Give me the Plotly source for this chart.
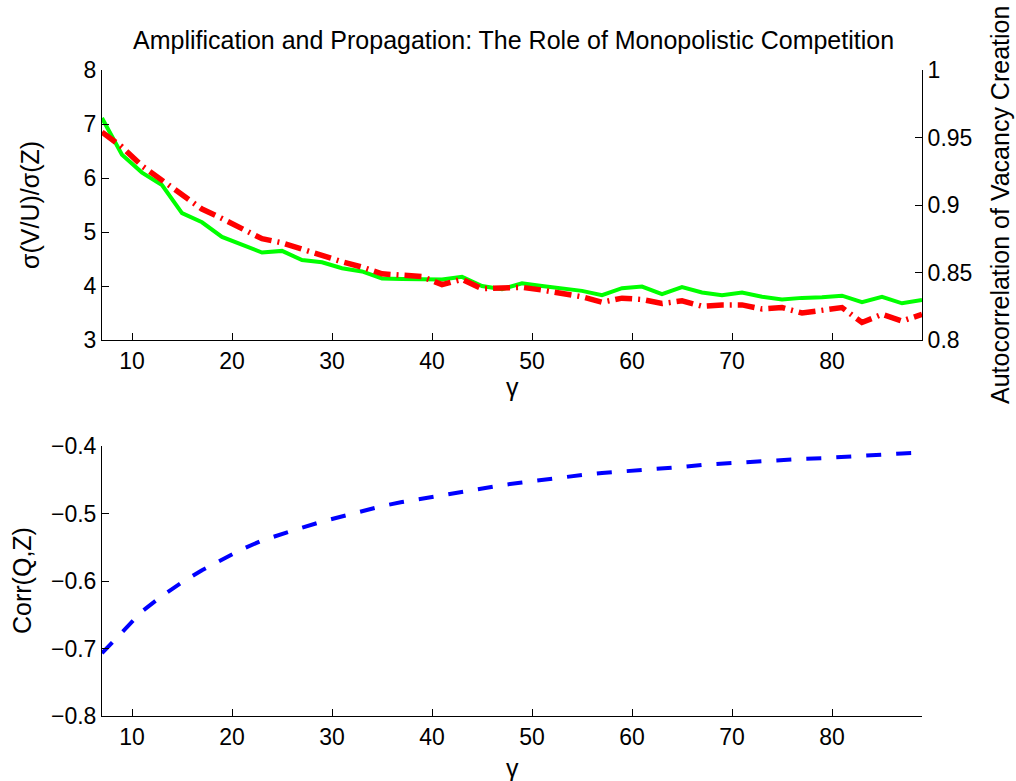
import plotly.graph_objects as go

gamma = list(range(7, 90, 2))

sigma_vu = [7.11, 6.43, 6.10, 5.87, 5.35, 5.18, 4.91, 4.76, 4.62, 4.65,
            4.48, 4.44, 4.33, 4.27, 4.14, 4.13, 4.12, 4.12, 4.17, 4.00,
            3.94, 4.05, 4.00, 3.95, 3.91, 3.83, 3.96, 3.99, 3.85, 3.98,
            3.88, 3.83, 3.88, 3.80, 3.75, 3.78, 3.79, 3.82, 3.70, 3.80,
            3.68, 3.74]

autocorr_v = [0.954, 0.943, 0.929, 0.918, 0.907, 0.897, 0.890, 0.882, 0.875, 0.872,
              0.867, 0.863, 0.858, 0.854, 0.849, 0.848, 0.847, 0.841, 0.845, 0.838,
              0.839, 0.839, 0.837, 0.835, 0.832, 0.828, 0.831, 0.830, 0.827, 0.829,
              0.825, 0.826, 0.826, 0.823, 0.824, 0.820, 0.822, 0.824, 0.813, 0.819,
              0.814, 0.819]

corr_qz = [-0.707, -0.676, -0.645, -0.622, -0.602, -0.584, -0.568, -0.553, -0.540, -0.530,
           -0.521, -0.512, -0.504, -0.496, -0.489, -0.483, -0.478, -0.472, -0.467, -0.463,
           -0.458, -0.454, -0.450, -0.446, -0.443, -0.440, -0.438, -0.436, -0.433, -0.431,
           -0.428, -0.426, -0.424, -0.423, -0.421, -0.419, -0.418, -0.416, -0.415, -0.413,
           -0.411, -0.410]

x_ticks = [10, 20, 30, 40, 50, 60, 70, 80]
y1_ticks = [3, 4, 5, 6, 7, 8]
y2_ticks = [0.8, 0.85, 0.9, 0.95, 1]
y2_labels = ["0.8", "0.85", "0.9", "0.95", "1"]
y3_ticks = [-0.8, -0.7, -0.6, -0.5, -0.4]
y3_labels = ["\u22120.8", "\u22120.7", "\u22120.6", "\u22120.5", "\u22120.4"]

title_text = "Amplification and Propagation: The Role of Monopolistic Competition"

W, H = 1016, 781
FONT = "Liberation Sans, Arial, sans-serif"
FS = 23
LFS = 25

fig = go.Figure()
fig.add_trace(go.Scatter(x=gamma, y=sigma_vu, mode="lines", xaxis="x", yaxis="y",
                         line=dict(color="rgb(0,255,0)", width=4), showlegend=False))
fig.add_trace(go.Scatter(x=gamma, y=autocorr_v, mode="lines", xaxis="x", yaxis="y2",
                         line=dict(color="rgb(255,0,0)", width=5.5, dash="17px,6px,2px,6px"),
                         showlegend=False))
fig.add_trace(go.Scatter(x=gamma, y=corr_qz, mode="lines", xaxis="x2", yaxis="y3",
                         line=dict(color="rgb(0,0,255)", width=4, dash="15px,15px"),
                         showlegend=False))

xd = [102 / W, 922 / W]
top_dom = [1 - 340 / H, 1 - 70 / H]
bot_dom = [1 - 716 / H, 1 - 446 / H]

axis_common = dict(showgrid=False, zeroline=False, showline=True, linecolor="black",
                   linewidth=1, ticks="inside", ticklen=7, tickcolor="black",
                   automargin=False,
                   tickfont=dict(family=FONT, size=FS, color="black"))

fig.update_layout(
    width=W, height=H,
    margin=dict(l=0, r=0, t=0, b=0, pad=0, autoexpand=False),
    paper_bgcolor="white", plot_bgcolor="white",
    xaxis=dict(domain=xd, anchor="y", range=[7, 89], tickvals=x_ticks, **axis_common),
    yaxis=dict(domain=top_dom, anchor="x", range=[3, 8], tickvals=y1_ticks, **axis_common),
    yaxis2=dict(overlaying="y", side="right", anchor="x", range=[0.8, 1],
                tickvals=y2_ticks, ticktext=y2_labels, **axis_common),
    xaxis2=dict(domain=xd, anchor="y3", range=[7, 89], tickvals=x_ticks, **axis_common),
    yaxis3=dict(domain=bot_dom, anchor="x2", range=[-0.8, -0.4], tickvals=y3_ticks,
                ticktext=y3_labels, **axis_common),
)

ann_font = dict(family=FONT, size=LFS, color="black")
annotations = [
    dict(text=title_text, x=513 / W, y=1 - 40 / H, xref="paper", yref="paper",
         showarrow=False, xanchor="center", yanchor="middle",
         font=dict(family=FONT, size=25, color="black")),
    dict(text="\u03b3", x=512 / W, y=1 - 387 / H, xref="paper", yref="paper",
         showarrow=False, xanchor="center", yanchor="middle", font=ann_font),
    dict(text="\u03b3", x=512 / W, y=1 - 768 / H, xref="paper", yref="paper",
         showarrow=False, xanchor="center", yanchor="middle", font=ann_font),
    dict(text="\u03c3(V/U)/\u03c3(Z)", x=30 / W, y=1 - 205 / H, xref="paper", yref="paper",
         showarrow=False, xanchor="center", yanchor="middle", textangle=-90, font=ann_font),
    dict(text="Corr(Q,Z)", x=22 / W, y=1 - 581 / H, xref="paper", yref="paper",
         showarrow=False, xanchor="center", yanchor="middle", textangle=-90, font=ann_font),
    dict(text="Autocorrelation of Vacancy Creation", x=1000 / W, y=1 - 205 / H,
         xref="paper", yref="paper", showarrow=False, xanchor="center", yanchor="middle",
         textangle=-90, font=ann_font),
]
fig.update_layout(annotations=annotations)

fig.write_html("out.html", config={"displayModeBar": False},
               post_script="document.body.style.margin='0px';")
